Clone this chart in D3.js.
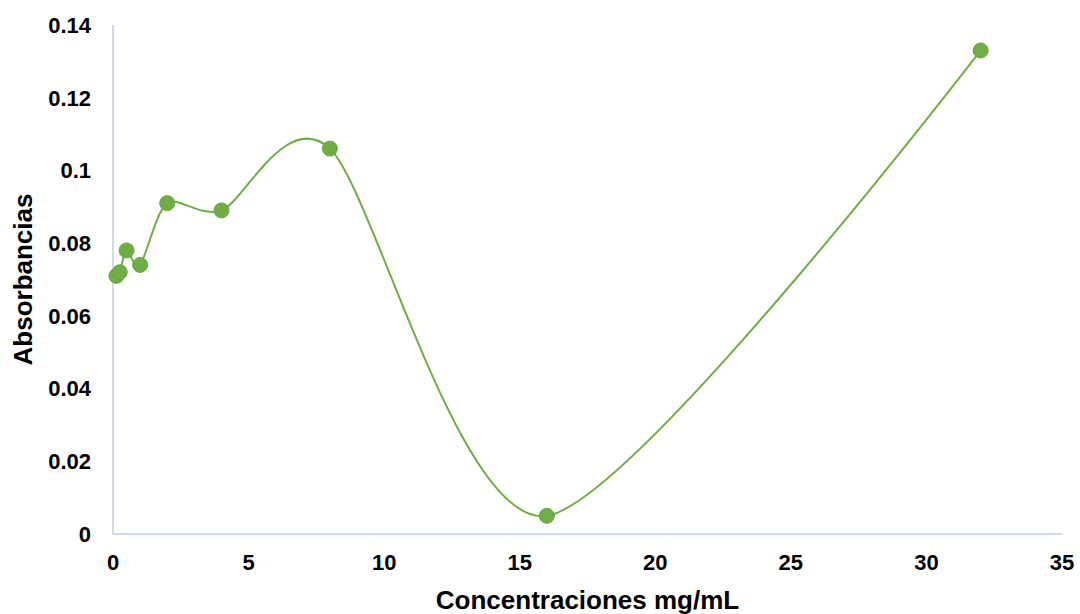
<!DOCTYPE html>
<html>
<head>
<meta charset="utf-8">
<script src="https://cdn.jsdelivr.net/npm/d3@7"></script>
<style>
  html, body { margin: 0; padding: 0; background: #fff; }
  svg { display: block; font-family: Arial, "Liberation Sans", sans-serif; }
</style>
</head>
<body>
<svg id="chart" width="1080" height="614"></svg>
<script>
// Concentration (mg/mL) and measured absorbance
const concentrations = [0.125, 0.25, 0.5, 1, 2, 4, 8, 16, 32];
const absorbances = [0.071, 0.072, 0.078, 0.074, 0.091, 0.089, 0.106, 0.005, 0.133];
const xTicks = [0, 5, 10, 15, 20, 25, 30, 35];
const yTicks = [0, 0.02, 0.04, 0.06, 0.08, 0.1, 0.12, 0.14];

const svg = d3.select("#chart");
const margin = { left: 113, right: 1062, top: 25, bottom: 534 };
const green = "#70ad47";
const axisColor = "#c5cedf";

const x = d3.scaleLinear().domain([0, 35]).range([margin.left, margin.right]);
const y = d3.scaleLinear().domain([0, 0.14]).range([margin.bottom, margin.top]);

const points = concentrations.map((c, i) => ({ c, a: absorbances[i] }));

// Axis lines
svg.append("line")
  .attr("x1", x(0)).attr("x2", x(0))
  .attr("y1", y(0.14)).attr("y2", y(0))
  .attr("stroke", axisColor).attr("stroke-width", 1.5);
svg.append("line")
  .attr("x1", x(0)).attr("x2", x(35))
  .attr("y1", y(0)).attr("y2", y(0))
  .attr("stroke", axisColor).attr("stroke-width", 1.5);

// Tick labels
svg.append("g").selectAll("text").data(yTicks).join("text")
  .attr("x", 91).attr("y", d => y(d))
  .attr("dy", "0.36em")
  .attr("text-anchor", "end")
  .attr("font-size", 22).attr("font-weight", "bold").attr("fill", "#000")
  .text(d => d === 0 ? "0" : String(+d.toFixed(2)));

svg.append("g").selectAll("text").data(xTicks).join("text")
  .attr("x", d => x(d)).attr("y", 570)
  .attr("text-anchor", "middle")
  .attr("font-size", 22).attr("font-weight", "bold").attr("fill", "#000")
  .text(d => d);

// Axis titles
svg.append("text")
  .attr("x", (margin.left + margin.right) / 2).attr("y", 609)
  .attr("text-anchor", "middle")
  .attr("font-size", 26).attr("font-weight", "bold").attr("fill", "#000")
  .text("Concentraciones mg/mL");

svg.append("text")
  .attr("transform", `translate(32, ${(margin.top + margin.bottom) / 2}) rotate(-90)`)
  .attr("text-anchor", "middle")
  .attr("font-size", 26).attr("font-weight", "bold").attr("fill", "#000")
  .text("Absorbancias");

// Smoothed series line
const line = d3.line()
  .x(d => x(d.c)).y(d => y(d.a))
  .curve(d3.curveCardinal.tension(0.2));

svg.append("path")
  .datum(points)
  .attr("d", line)
  .attr("fill", "none")
  .attr("stroke", green)
  .attr("stroke-width", 2);

// Markers
svg.append("g").selectAll("circle").data(points).join("circle")
  .attr("cx", d => x(d.c)).attr("cy", d => y(d.a))
  .attr("r", 7.5)
  .attr("fill", green)
  .attr("stroke", "#6aa640").attr("stroke-width", 1);
</script>
</body>
</html>
